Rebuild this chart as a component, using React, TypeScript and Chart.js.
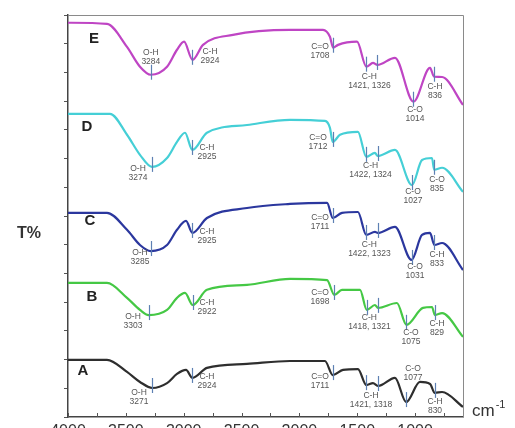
import React, { useEffect, useRef } from "react";
import { Chart, registerables } from "chart.js";
Chart.register(...registerables);

// ---- axis ranges / ticks ----
const X_MIN = 586;
const X_MAX = 4000;
const X_TICK_STEP = 250;
const X_LABEL_STEP = 500;
const Y_MIN = 0;
const Y_MAX = 14;
const Y_TICK_STEP = 1;

// ---- spectra (wavenumber cm-1, offset transmittance) ----
const E_WN = [4000, 3663, 3490, 3378, 3284, 3144, 3058, 2997, 2924, 2833, 2574, 2081, 1796, 1736, 1708, 1666, 1502, 1421, 1364, 1326, 1174, 1014, 871, 836, 767, 586];
const E_T = [13.73, 13.69, 12.89, 12.2, 11.92, 12.2, 12.79, 13.07, 12.44, 12.96, 13.31, 13.48, 13.48, 13.24, 12.86, 12.96, 13.07, 12.2, 12.33, 12.26, 12.51, 10.98, 12.16, 11.85, 11.84, 10.87];

const D_WN = [4000, 3637, 3490, 3378, 3274, 3144, 3058, 2989, 2925, 2799, 2453, 2081, 1779, 1736, 1712, 1649, 1494, 1422, 1347, 1324, 1174, 1027, 940, 854, 835, 767, 586];
const D_T = [10.56, 10.56, 9.83, 9.13, 8.71, 9.02, 9.58, 9.9, 9.3, 9.9, 10.17, 10.35, 10.31, 10.07, 9.58, 9.83, 9.93, 9.06, 9.2, 9.09, 9.3, 8.08, 8.95, 9.02, 8.61, 8.68, 7.84];

const C_WN = [4000, 3663, 3490, 3378, 3285, 3144, 3058, 2980, 2925, 2799, 2453, 2081, 1761, 1711, 1632, 1494, 1422, 1347, 1323, 1174, 1031, 940, 871, 833, 767, 586];
const C_T = [7.11, 7.11, 6.52, 5.99, 5.78, 5.99, 6.52, 6.83, 6.41, 6.93, 7.28, 7.42, 7.46, 6.93, 7.11, 7.14, 6.34, 6.45, 6.41, 6.62, 5.47, 6.34, 6.41, 5.99, 6.06, 5.12];

const B_WN = [4000, 3663, 3490, 3378, 3303, 3144, 3058, 2989, 2922, 2799, 2453, 2081, 1761, 1698, 1632, 1476, 1418, 1347, 1321, 1157, 1075, 932, 854, 829, 767, 586];
const B_T = [4.67, 4.67, 4.15, 3.73, 3.55, 3.73, 4.15, 4.32, 3.9, 4.43, 4.6, 4.81, 4.77, 4.25, 4.43, 4.43, 3.73, 3.9, 3.8, 3.97, 3.21, 3.8, 3.83, 3.55, 3.62, 2.79];

const A_WN = [4000, 3663, 3490, 3378, 3271, 3144, 3058, 2980, 2924, 2799, 2453, 2081, 1779, 1711, 1623, 1494, 1421, 1364, 1318, 1174, 1077, 958, 871, 830, 767, 586];
const A_T = [1.99, 1.99, 1.57, 1.22, 1.01, 1.18, 1.5, 1.64, 1.36, 1.71, 1.85, 1.95, 1.95, 1.46, 1.64, 1.67, 1.11, 1.18, 1.08, 1.36, 0.52, 1.22, 1.15, 0.84, 0.87, 0.35];

const SERIES_NAMES = ["E", "D", "C", "B", "A"];
const SERIES_COLORS = ["#bf45c4", "#45cfd6", "#2b379e", "#45c845", "#2e2e2e"];
const SERIES_WN = [E_WN, D_WN, C_WN, B_WN, A_WN];
const SERIES_T = [E_T, D_T, C_T, B_T, A_T];

// series letter label anchors (wavenumber, T)
const LETTER_WN = [3775, 3836, 3810, 3793, 3870];
const LETTER_T = [13.17, 10.1, 6.83, 4.18, 1.6];

// peak annotations: marks = marked wavenumbers, at = [wn, T] of label text
type Note = { title: string; value: string; marks: number[]; at: [number, number] };
const E_NOTES: Note[] = [
  { title: "O-H", value: "3284", marks: [3284], at: [3284, 12.68] },
  { title: "C-H", value: "2924", marks: [2924], at: [2773, 12.72] },
  { title: "C=O", value: "1708", marks: [1708], at: [1822, 12.89] },
  { title: "C-H", value: "1421, 1326", marks: [1421, 1326], at: [1395, 11.85] },
  { title: "C-O", value: "1014", marks: [1014], at: [1001, 10.7] },
  { title: "C-H", value: "836", marks: [836], at: [828, 11.5] },
];
const D_NOTES: Note[] = [
  { title: "O-H", value: "3274", marks: [3274], at: [3395, 8.64] },
  { title: "C-H", value: "2925", marks: [2925], at: [2799, 9.37] },
  { title: "C=O", value: "1712", marks: [1712], at: [1839, 9.72] },
  { title: "C-H", value: "1422, 1324", marks: [1422, 1324], at: [1385, 8.75] },
  { title: "C-O", value: "1027", marks: [1027], at: [1018, 7.84] },
  { title: "C-O", value: "835", marks: [835], at: [811, 8.26] },
];
const C_NOTES: Note[] = [
  { title: "O-H", value: "3285", marks: [3285], at: [3378, 5.71] },
  { title: "C-H", value: "2925", marks: [2925], at: [2799, 6.45] },
  { title: "C=O", value: "1711", marks: [1711], at: [1822, 6.93] },
  { title: "C-H", value: "1422, 1323", marks: [1422, 1323], at: [1395, 5.99] },
  { title: "C-O", value: "1031", marks: [1031], at: [1001, 5.23] },
  { title: "C-H", value: "833", marks: [833], at: [811, 5.64] },
];
const B_NOTES: Note[] = [
  { title: "O-H", value: "3303", marks: [3303], at: [3438, 3.48] },
  { title: "C-H", value: "2922", marks: [2922], at: [2799, 3.97] },
  { title: "C=O", value: "1698", marks: [1698], at: [1822, 4.32] },
  { title: "C-H", value: "1418, 1321", marks: [1418, 1321], at: [1395, 3.45] },
  { title: "C-O", value: "1075", marks: [1075], at: [1036, 2.93] },
  { title: "C-H", value: "829", marks: [829], at: [811, 3.24] },
];
const A_NOTES: Note[] = [
  { title: "O-H", value: "3271", marks: [3271], at: [3386, 0.84] },
  { title: "C-H", value: "2924", marks: [2924], at: [2799, 1.39] },
  { title: "C=O", value: "1711", marks: [1711], at: [1822, 1.39] },
  { title: "C-H", value: "1421, 1318", marks: [1421, 1318], at: [1381, 0.73] },
  { title: "C-O", value: "1077", marks: [1077], at: [1018, 1.67] },
  { title: "C-H", value: "830", marks: [830], at: [828, 0.52] },
];
const SERIES_NOTES = [E_NOTES, D_NOTES, C_NOTES, B_NOTES, A_NOTES];

const Y_TITLE = "T%";
const X_UNIT = "cm";
const X_UNIT_SUP = "-1";

function interp(wn: number[], t: number[], x: number): number {
  for (let i = 0; i < wn.length - 1; i++) {
    const a = wn[i], b = wn[i + 1];
    if ((x <= a && x >= b) || (x >= a && x <= b)) {
      const f = (x - a) / (b - a || 1);
      return t[i] + f * (t[i + 1] - t[i]);
    }
  }
  return t[t.length - 1];
}

const decorPlugin = {
  id: "decor",
  afterDatasetsDraw(chart: any) {
    const ctx = chart.ctx;
    const xs = chart.scales.x;
    const ys = chart.scales.y;
    const area = chart.chartArea;
    ctx.save();
    // frame
    ctx.strokeStyle = "#8a8a8a";
    ctx.lineWidth = 1;
    ctx.beginPath();
    ctx.moveTo(area.left, area.top + 0.5);
    ctx.lineTo(area.right + 0.5, area.top + 0.5);
    ctx.lineTo(area.right + 0.5, area.bottom);
    ctx.stroke();

    // inward x tick marks
    ctx.strokeStyle = "#555";
    ctx.lineWidth = 1;
    ctx.beginPath();
    xs.ticks.forEach((t: any) => {
      const px = Math.round(xs.getPixelForValue(t.value)) + 0.5;
      ctx.moveTo(px, area.bottom);
      ctx.lineTo(px, area.bottom - 4);
    });
    ctx.stroke();

    // markers + notes
    SERIES_NOTES.forEach((notes, si) => {
      notes.forEach((n) => {
        n.marks.forEach((m) => {
          const px = xs.getPixelForValue(m);
          const py = ys.getPixelForValue(interp(SERIES_WN[si], SERIES_T[si], m));
          ctx.strokeStyle = "#5d80b3";
          ctx.lineWidth = 1.2;
          ctx.beginPath();
          ctx.moveTo(Math.round(px) + 0.5, py - 10);
          ctx.lineTo(Math.round(px) + 0.5, py + 5);
          ctx.stroke();
        });
        const tx = xs.getPixelForValue(n.at[0]);
        const ty = ys.getPixelForValue(n.at[1]);
        ctx.fillStyle = "#555";
        ctx.font = "8.5px 'Liberation Sans', Arial, sans-serif";
        ctx.textAlign = "center";
        ctx.textBaseline = "middle";
        ctx.fillText(n.title, tx, ty);
        ctx.fillText(n.value, tx, ty + 9);
      });
    });

    // series letters
    ctx.fillStyle = "#222";
    ctx.font = "bold 15px 'Liberation Sans', Arial, sans-serif";
    ctx.textAlign = "center";
    ctx.textBaseline = "middle";
    SERIES_NAMES.forEach((name, i) => {
      ctx.fillText(name, xs.getPixelForValue(LETTER_WN[i]), ys.getPixelForValue(LETTER_T[i]));
    });

    // axis titles
    ctx.fillStyle = "#333";
    ctx.font = "bold 16px 'Liberation Sans', Arial, sans-serif";
    ctx.textAlign = "center";
    ctx.fillText(Y_TITLE, 29, (area.top + area.bottom) / 2 + 18);

    ctx.textAlign = "left";
    ctx.textBaseline = "alphabetic";
    ctx.font = "17px 'Liberation Sans', Arial, sans-serif";
    const ux = area.right + 9;
    const uy = area.bottom - 1;
    ctx.fillText(X_UNIT, ux, uy);
    const w = ctx.measureText(X_UNIT).width;
    ctx.font = "11px 'Liberation Sans', Arial, sans-serif";
    ctx.fillText(X_UNIT_SUP, ux + w + 1, uy - 8);
    ctx.restore();
  },
};

export default function App() {
  const ref = useRef<HTMLCanvasElement | null>(null);
  useEffect(() => {
    if (!ref.current) return;
    const chart = new Chart(ref.current, {
      type: "line",
      data: {
        datasets: SERIES_NAMES.map((name, i) => ({
          label: name,
          data: SERIES_WN[i].map((x, j) => ({ x, y: SERIES_T[i][j] })),
          borderColor: SERIES_COLORS[i],
          borderWidth: 2.2,
          pointRadius: 0,
          fill: false,
          cubicInterpolationMode: "monotone" as const,
        })),
      },
      options: {
        responsive: false,
        animation: false,
        events: [],
        layout: { padding: { left: 0, top: 15, right: 52, bottom: 0 } },
        plugins: { legend: { display: false }, tooltip: { enabled: false } },
        scales: {
          x: {
            type: "linear",
            reverse: true,
            min: X_MIN,
            max: X_MAX,
            afterFit: (s: any) => {
              s.height = 11;
            },
            border: { display: true, color: "#444", width: 1.5 },
            grid: { drawOnChartArea: false, drawTicks: true, tickLength: 5, color: "rgba(0,0,0,0)" },
            ticks: {
              stepSize: X_TICK_STEP,
              includeBounds: false,
              autoSkip: false,
              maxRotation: 0,
              padding: 0,
              color: "#333",
              font: { size: 16, family: "'Liberation Sans', Arial, sans-serif" },
              callback: (v: any) => (Number(v) % X_LABEL_STEP === 0 ? String(v) : ""),
            },
          },
          y: {
            type: "linear",
            min: Y_MIN,
            max: Y_MAX,
            afterFit: (s: any) => {
              s.width = 68;
            },
            border: { display: true, color: "#444", width: 1.5 },
            grid: { drawOnChartArea: false, drawTicks: true, tickLength: 4, color: "#555" },
            ticks: { stepSize: Y_TICK_STEP, callback: () => "", padding: 0 },
          },
        },
      },
      plugins: [decorPlugin],
    });
    return () => chart.destroy();
  }, []);
  return (
    <div style={{ position: "absolute", left: 0, top: 0, width: 515, height: 428, background: "#fff" }}>
      <canvas ref={ref} width={515} height={428} />
    </div>
  );
}
